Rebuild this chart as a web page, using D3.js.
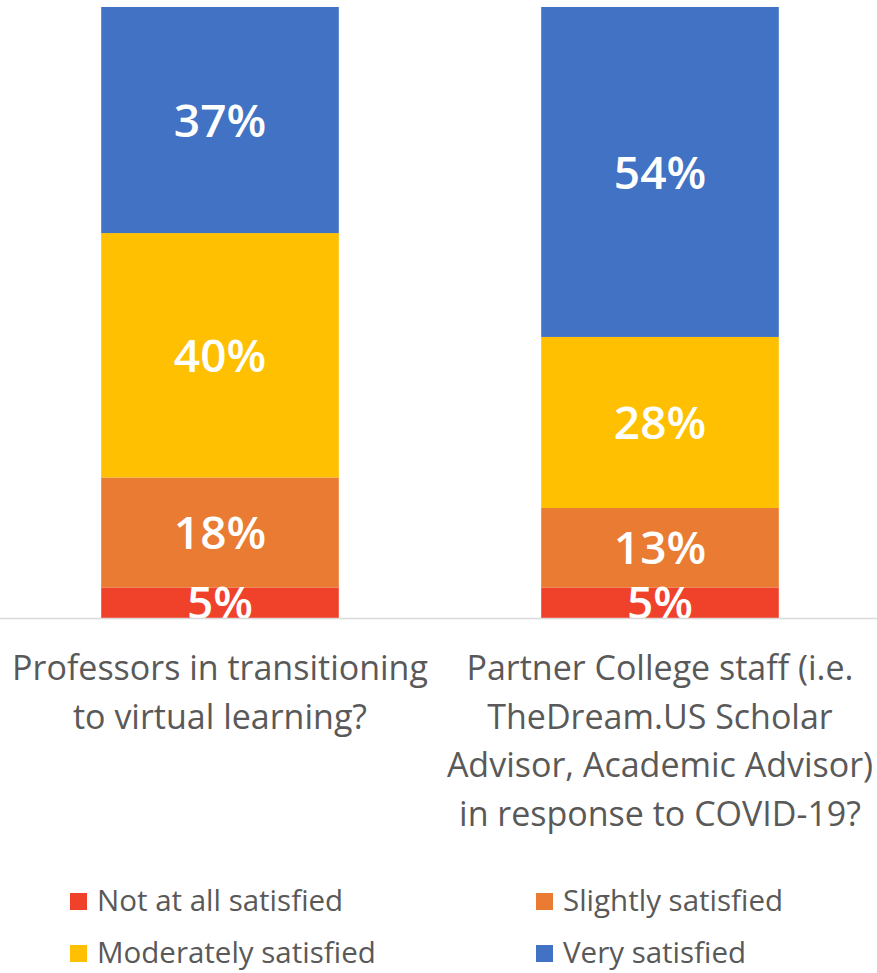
<!DOCTYPE html>
<html><head><meta charset="utf-8">
<script src="https://cdn.jsdelivr.net/npm/d3@7"></script>
<style>body{margin:0;background:#fff}svg{display:block}</style>
</head><body>
<script>
const categories = [
  ["Professors in transitioning", "to virtual learning?"],
  ["Partner College staff (i.e.", "TheDream.US Scholar", "Advisor, Academic Advisor)", "in response to COVID-19?"]
];
const seriesNames = ["Not at all satisfied", "Slightly satisfied", "Moderately satisfied", "Very satisfied"];
const seriesColors = ["#F0412A", "#E97B33", "#FEC000", "#4172C4"];
const notAtAll = [5, 5];
const slightly = [18, 13];
const moderately = [40, 28];
const very = [37, 54];

const W = 877, H = 973;
const svg = d3.select("body").append("svg").attr("width", W).attr("height", H);
const font = "'Open Sans', sans-serif";

const plotTop = 7, plotBottom = 618;
const x = d3.scaleBand().domain([0, 1]).range([0, 880]).paddingInner(0.46).paddingOuter(0.23);
const y = d3.scaleLinear().domain([0, 100]).range([plotBottom, plotTop]);

const rows = [0, 1].map(i => ({i, v: [notAtAll[i], slightly[i], moderately[i], very[i]]}));
const stack = d3.stack().keys([0, 1, 2, 3]).value((d, k) => d.v[k]);
const layers = stack(rows);

svg.append("defs").append("clipPath").attr("id", "plotclip")
  .append("rect").attr("x", 0).attr("y", 0).attr("width", W).attr("height", plotBottom);

const g = svg.append("g").attr("clip-path", "url(#plotclip)");
layers.forEach((layer, k) => {
  g.selectAll(null).data(layer).enter().append("rect")
    .attr("x", d => x(d.data.i))
    .attr("width", x.bandwidth())
    .attr("y", d => y(d[1]))
    .attr("height", d => y(d[0]) - y(d[1]))
    .attr("fill", seriesColors[k]);
});
layers.forEach((layer, k) => {
  g.selectAll(null).data(layer).enter().append("text")
    .attr("x", d => x(d.data.i) + x.bandwidth() / 2)
    .attr("y", d => (y(d[0]) + y(d[1])) / 2)
    .attr("dy", "0.36em")
    .attr("text-anchor", "middle")
    .attr("fill", "#fff")
    .attr("font-family", font)
    .attr("font-weight", 600)
    .attr("font-size", 46)
    .text(d => d.data.v[k] + "%");
});

// axis line
svg.append("line").attr("x1", 0).attr("x2", W).attr("y1", plotBottom + 0.5).attr("y2", plotBottom + 0.5)
  .attr("stroke", "#D9D9D9").attr("stroke-width", 1.5);

// category labels
categories.forEach((lines, i) => {
  const t = svg.append("text")
    .attr("text-anchor", "middle")
    .attr("font-family", font)
    .attr("font-size", 34)
    .attr("fill", "#595959");
  lines.forEach((ln, j) => {
    t.append("tspan").attr("x", x(i) + x.bandwidth() / 2).attr("y", 680 + j * 48.5).text(ln);
  });
});

// legend
const legPos = [[70, 893], [536, 893], [70, 945], [536, 945]];
seriesNames.forEach((name, k) => {
  const [lx, ly] = legPos[k];
  svg.append("rect").attr("x", lx).attr("y", ly).attr("width", 17).attr("height", 17).attr("fill", seriesColors[k]);
  svg.append("text").attr("x", lx + 27).attr("y", ly + 18)
    .attr("font-family", font).attr("font-size", 29.5).attr("fill", "#595959").text(name);
});
</script>
</body></html>
